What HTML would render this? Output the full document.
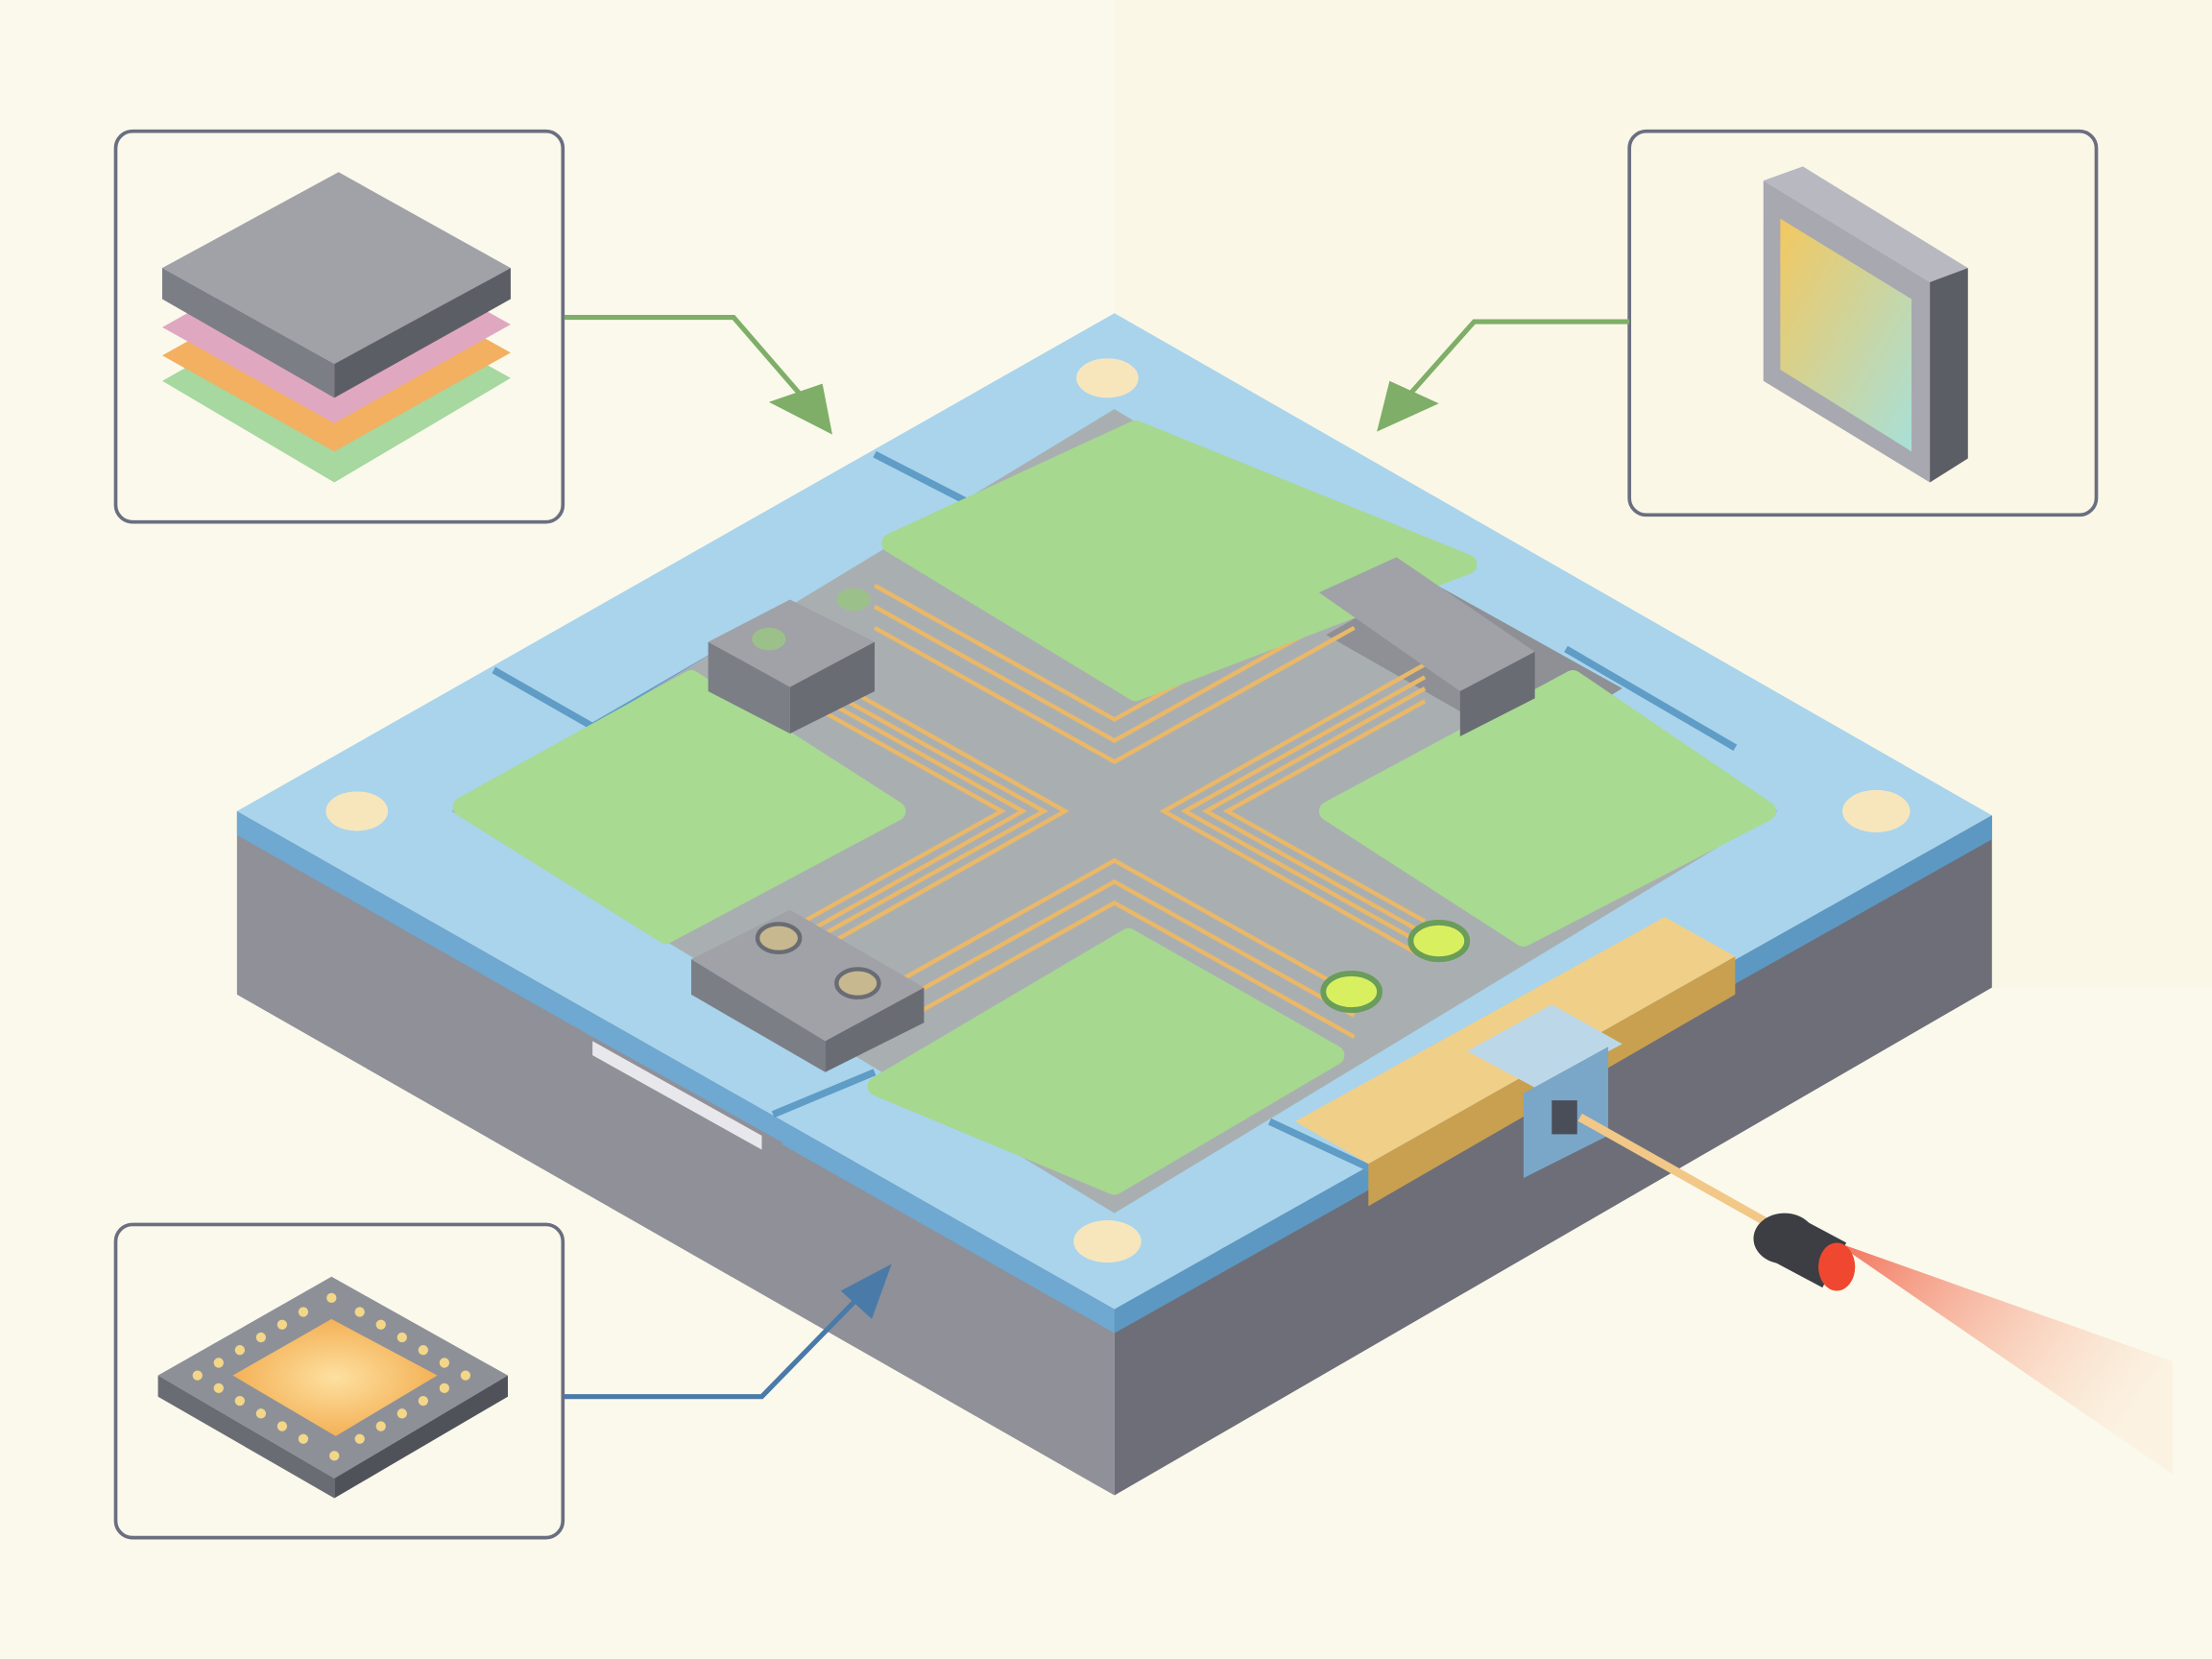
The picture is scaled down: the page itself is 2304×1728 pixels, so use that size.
<!DOCTYPE html>
<html><head><meta charset="utf-8"><style>
html,body{margin:0;padding:0;width:2304px;height:1728px;overflow:hidden;background:#faf8ea}
svg{display:block}
</style></head><body>
<svg width="2304" height="1728" viewBox="0 0 1568 1176" preserveAspectRatio="none" xmlns="http://www.w3.org/2000/svg">
<defs>
<linearGradient id="gz" x1="0" y1="0" x2="1" y2="1"><stop offset="0" stop-color="#f3c860"/><stop offset="1" stop-color="#a8e0d8"/></linearGradient>
<radialGradient id="chip" cx="0.5" cy="0.5" r="0.6"><stop offset="0" stop-color="#fde0a0"/><stop offset="1" stop-color="#f2a848"/></radialGradient>
<linearGradient id="beam" x1="0" y1="0" x2="1" y2="0.5"><stop offset="0" stop-color="#f06048" stop-opacity="0.9"/><stop offset="1" stop-color="#fbd6b8" stop-opacity="0.2"/></linearGradient>
</defs>
<rect width="1568" height="1176" fill="#fbf9ec"/>
<rect x="790" y="0" width="778" height="700" fill="#fbf7e6"/>
<!-- platform sides -->
<polygon points="168,575 790,928 790,1060 168,705" fill="#8f9098"/>
<polygon points="790,928 1412,578 1412,700 790,1060" fill="#6d6e78"/>
<!-- top -->
<polygon points="168,575 790,222 1412,578 790,928" fill="#a9d4ec"/>
<polygon points="168,575 790,928 790,945 168,592" fill="#6fa8d0"/>
<polygon points="790,928 1412,578 1412,595 790,945" fill="#5d98c2"/>
<!-- frame cuts -->
<g stroke="#5f9cc6" stroke-width="5" fill="none">
<path d="M620,322 L690,358 L420,515 L350,475"/>
<path d="M1110,460 L1230,530"/>
<path d="M548,790 L620,760"/>
<path d="M900,795 L975,830"/>
</g>
<!-- gray recess -->
<polygon points="320,575 790,290 1260,575 790,860" fill="#a9afb1"/>
<polygon points="1010,410 1150,488 1080,530 940,450" fill="#8e9096"/>
<polygon points="420,735 555,810 545,825 420,752" fill="#8f9098"/>
<polygon points="420,738 540,805 540,815 420,748" fill="#e8e8ec"/>
<!-- traces -->
<g fill="none" stroke="#eab868" stroke-width="3">
<path d="M570,471 L755,575 L570,679"/><path d="M570,480 L740,575 L570,670"/><path d="M570,488 L725,575 L570,662"/><path d="M570,497 L710,575 L570,653"/>
<path d="M1010,471 L825,575 L1010,679"/><path d="M1010,480 L840,575 L1010,670"/><path d="M1010,488 L855,575 L1010,662"/><path d="M1010,497 L870,575 L1010,653"/>
<path d="M620,445 L790,540 L960,445"/><path d="M620,430 L790,525 L960,430"/><path d="M620,415 L790,510 L960,415"/>
<path d="M620,705 L790,610 L960,705"/><path d="M620,720 L790,625 L960,720"/><path d="M620,735 L790,640 L960,735"/>
</g>
<!-- green pads -->
<g stroke-linejoin="round" stroke-width="14">
<polygon points="632,385 805,305 1040,400 805,490" fill="#a6d890" stroke="#a6d890"/>
<polygon points="328,572 490,482 635,575 472,662" fill="#a8da92" stroke="#a8da92"/>
<polygon points="942,575 1115,482 1252,575 1080,664" fill="#a8da92" stroke="#a8da92"/>
<polygon points="622,770 800,665 946,748 790,840" fill="#a6d890" stroke="#a6d890"/>
</g>
<!-- corner dots -->
<g fill="#f7e6bc"><ellipse cx="785" cy="268" rx="22" ry="14"/><ellipse cx="253" cy="575" rx="22" ry="14"/><ellipse cx="1330" cy="575" rx="24" ry="15"/><ellipse cx="785" cy="880" rx="24" ry="15"/></g>
<!-- connector blocks -->
<polygon points="502,455 560,425 620,455 560,487" fill="#a0a2a8"/><polygon points="502,455 560,487 560,520 502,490" fill="#7c7e86"/><polygon points="560,487 620,455 620,490 560,520" fill="#6a6c74"/>
<ellipse cx="545" cy="453" rx="12" ry="8" fill="#9cc08a"/><ellipse cx="605" cy="425" rx="12" ry="8" fill="#9cc08a"/>
<polygon points="935,420 990,395 1088,462 1035,490" fill="#a0a2a8"/><polygon points="1035,490 1088,462 1088,495 1035,522" fill="#6a6c74"/>
<polygon points="490,680 560,645 655,700 585,738" fill="#a0a2a8"/><polygon points="490,680 585,738 585,760 490,705" fill="#7c7e86"/><polygon points="585,738 655,700 655,725 585,760" fill="#6a6c74"/>
<ellipse cx="552" cy="665" rx="15" ry="10" fill="#c8b890" stroke="#6a6c74" stroke-width="3"/><ellipse cx="608" cy="697" rx="15" ry="10" fill="#c8b890" stroke="#6a6c74" stroke-width="3"/>
<!-- leds -->
<ellipse cx="958" cy="703" rx="20" ry="13" fill="#d8f060" stroke="#6a9c5a" stroke-width="4"/>
<ellipse cx="1020" cy="667" rx="20" ry="13" fill="#d8f060" stroke="#6a9c5a" stroke-width="4"/>
<!-- gold waveguide block -->
<polygon points="918,795 1180,650 1230,678 970,825" fill="#f0cf88"/>
<polygon points="970,825 1230,678 1230,705 970,855" fill="#c8a050"/>
<polygon points="1040,745 1100,712 1150,740 1090,772" fill="#bcd8e8"/>
<polygon points="1080,775 1140,742 1140,805 1080,835" fill="#7aa6c8"/>
<rect x="1100" y="780" width="18" height="24" fill="#4a4e58"/>
<!-- fiber & laser -->
<line x1="1120" y1="792" x2="1255" y2="868" stroke="#f2c888" stroke-width="6"/>
<polygon points="1300,880 1540,965 1540,1045" fill="url(#beam)"/>
<ellipse cx="1265" cy="878" rx="22" ry="18" fill="#3c3e44"/>
<rect x="1265" y="860" width="40" height="36" fill="#3c3e44" transform="rotate(28 1265 878)"/>
<ellipse cx="1302" cy="898" rx="13" ry="17" fill="#f04830"/>
<!-- insets -->
<g fill="none" stroke="#6a6e80" stroke-width="2.5">
<rect x="82" y="93" width="317" height="277" rx="12"/>
<rect x="1155" y="93" width="331" height="272" rx="12"/>
<rect x="82" y="868" width="317" height="222" rx="12"/>
</g>
<!-- layer stack -->
<polygon points="115,270 240,200 362,268 237,342" fill="#a6d8a0"/>
<polygon points="115,252 240,182 362,250 237,320" fill="#f2b060"/>
<polygon points="115,232 240,162 362,230 237,300" fill="#e0a8c0"/>
<polygon points="115,190 240,122 362,190 237,258" fill="#a0a2a8"/>
<polygon points="115,190 237,258 237,282 115,212" fill="#7c7e86"/>
<polygon points="237,258 362,190 362,212 237,282" fill="#5c5e66"/>
<!-- right inset panel -->
<polygon points="1250,128 1278,118 1395,190 1368,200" fill="#b8b8c0"/>
<polygon points="1250,128 1368,200 1368,342 1250,270" fill="#a8a8b0"/>
<polygon points="1262,155 1355,212 1355,320 1262,262" fill="url(#gz)"/>
<polygon points="1368,200 1395,190 1395,325 1368,342" fill="#5c5e66"/>
<!-- chip -->
<polygon points="112,975 235,905 360,975 237,1048" fill="#8e9098"/>
<polygon points="112,975 237,1048 237,1062 112,990" fill="#6a6c74"/>
<polygon points="237,1048 360,975 360,990 237,1062" fill="#50525a"/>
<polygon points="165,975 235,935 310,975 238,1018" fill="url(#chip)"/>
<g fill="#f4d688">
<circle cx="140" cy="975" r="3.5"/><circle cx="155" cy="966" r="3.5"/><circle cx="170" cy="957" r="3.5"/><circle cx="185" cy="948" r="3.5"/><circle cx="200" cy="939" r="3.5"/><circle cx="215" cy="930" r="3.5"/><circle cx="235" cy="920" r="3.5"/>
<circle cx="255" cy="930" r="3.5"/><circle cx="270" cy="939" r="3.5"/><circle cx="285" cy="948" r="3.5"/><circle cx="300" cy="957" r="3.5"/><circle cx="315" cy="966" r="3.5"/><circle cx="330" cy="975" r="3.5"/>
<circle cx="155" cy="984" r="3.5"/><circle cx="170" cy="993" r="3.5"/><circle cx="185" cy="1002" r="3.5"/><circle cx="200" cy="1011" r="3.5"/><circle cx="215" cy="1020" r="3.5"/><circle cx="237" cy="1032" r="3.5"/>
<circle cx="255" cy="1020" r="3.5"/><circle cx="270" cy="1011" r="3.5"/><circle cx="285" cy="1002" r="3.5"/><circle cx="300" cy="993" r="3.5"/><circle cx="315" cy="984" r="3.5"/>
</g>
<!-- arrows -->
<polyline points="400,225 520,225 578,292" fill="none" stroke="#7eae68" stroke-width="3.5"/>
<polygon points="590,308 545,285 583,272" fill="#7eae68"/>
<polyline points="1155,228 1045,228 990,290" fill="none" stroke="#7eae68" stroke-width="3.5"/>
<polygon points="976,306 1020,286 985,270" fill="#7eae68"/>
<polyline points="400,990 540,990 618,910" fill="none" stroke="#4a7aa8" stroke-width="3.5"/>
<polygon points="632,896 618,935 596,915" fill="#4a7aa8"/>
</svg>
</body></html>
